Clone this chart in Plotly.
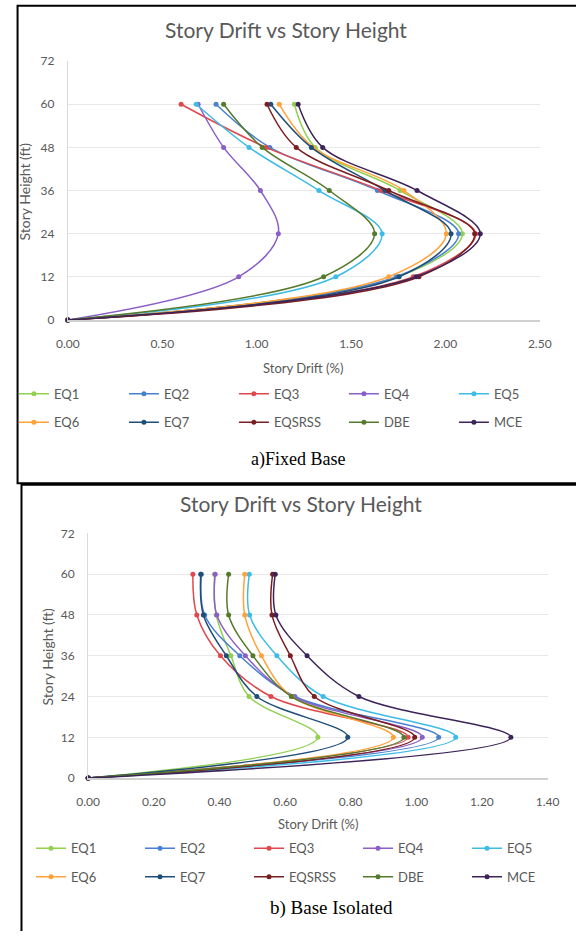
import plotly.graph_objects as go

heights = [0, 12, 24, 36, 48, 60]
series_names = ["EQ1", "EQ2", "EQ3", "EQ4", "EQ5", "EQ6", "EQ7", "EQSRSS", "DBE", "MCE"]
colors = ["#92D050", "#4A80D0", "#E0474C", "#8B5FC7", "#3CBCE6",
          "#FFA23A", "#1F4E79", "#7B1E22", "#557A2C", "#3D2458"]

# a) Fixed Base - story drift (%)
fixed_eq1 = [0, 1.75, 2.09, 1.76, 1.31, 1.20]
fixed_eq2 = [0, 1.74, 2.07, 1.64, 1.07, 0.785]
fixed_eq3 = [0, 1.83, 2.16, 1.66, 1.05, 0.60]
fixed_eq4 = [0, 0.905, 1.115, 1.02, 0.825, 0.69]
fixed_eq5 = [0, 1.42, 1.665, 1.33, 0.96, 0.68]
fixed_eq6 = [0, 1.70, 2.005, 1.78, 1.30, 1.12]
fixed_eq7 = [0, 1.755, 2.03, 1.68, 1.29, 1.075]
fixed_eqsrss = [0, 1.86, 2.155, 1.70, 1.21, 1.055]
fixed_dbe = [0, 1.355, 1.625, 1.385, 1.03, 0.825]
fixed_mce = [0, 1.845, 2.185, 1.85, 1.35, 1.22]

# b) Base Isolated - story drift (%)
iso_eq1 = [0, 0.70, 0.49, 0.435, 0.39, 0.385]
iso_eq2 = [0, 1.068, 0.63, 0.462, 0.355, 0.345]
iso_eq3 = [0, 0.975, 0.557, 0.403, 0.331, 0.319]
iso_eq4 = [0, 1.018, 0.625, 0.479, 0.392, 0.387]
iso_eq5 = [0, 1.12, 0.716, 0.575, 0.492, 0.491]
iso_eq6 = [0, 0.93, 0.62, 0.528, 0.477, 0.477]
iso_eq7 = [0, 0.791, 0.514, 0.421, 0.351, 0.343]
iso_eqsrss = [0, 0.995, 0.689, 0.616, 0.560, 0.562]
iso_dbe = [0, 0.962, 0.619, 0.502, 0.428, 0.428]
iso_mce = [0, 1.288, 0.825, 0.667, 0.572, 0.570]

fixed_data = [fixed_eq1, fixed_eq2, fixed_eq3, fixed_eq4, fixed_eq5,
              fixed_eq6, fixed_eq7, fixed_eqsrss, fixed_dbe, fixed_mce]
iso_data = [iso_eq1, iso_eq2, iso_eq3, iso_eq4, iso_eq5,
            iso_eq6, iso_eq7, iso_eqsrss, iso_dbe, iso_mce]

# page body has an 8px default margin: lay out in page pixels, shifted by OFF
OFF = 8
W, H = 584 - OFF, 939 - OFF
FONT = "Lato"
GREY = "#595959"

def px(x):
    return (x - OFF) / W

def py(y):
    return 1 - (y - OFF) / H

fig = go.Figure()

for i, (name, col) in enumerate(zip(series_names, colors)):
    lg = "legend" if i < 5 else "legend2"
    fig.add_trace(go.Scatter(
        x=fixed_data[i], y=heights, name=name, mode="lines+markers",
        line=dict(color=col, width=1.5, shape="spline", smoothing=1),
        marker=dict(color=col, size=5), xaxis="x", yaxis="y",
        legend=lg, cliponaxis=False))
for i, (name, col) in enumerate(zip(series_names, colors)):
    lg = "legend3" if i < 5 else "legend4"
    fig.add_trace(go.Scatter(
        x=iso_data[i], y=heights, name=name, mode="lines+markers",
        line=dict(color=col, width=1.5, shape="spline", smoothing=1),
        marker=dict(color=col, size=5), xaxis="x2", yaxis="y2",
        legend=lg, cliponaxis=False))

axis_common = dict(tickfont=dict(family=FONT, size=12, color=GREY),
                   zeroline=False, fixedrange=True)

def legend_cfg(xpx, ypx, ew):
    return dict(orientation="h", x=px(xpx), y=py(ypx), xanchor="left", yanchor="middle",
                entrywidth=ew, entrywidthmode="pixels", itemwidth=30,
                font=dict(family=FONT, size=13, color=GREY),
                bgcolor="rgba(0,0,0,0)", borderwidth=0, traceorder="normal")

fig.update_layout(
    width=W, height=H, margin=dict(l=0, r=0, t=0, b=0),
    paper_bgcolor="white", plot_bgcolor="white", showlegend=True,
    xaxis=dict(domain=[px(66.3), px(558.7)], anchor="y", range=[0, 2.5], dtick=0.5,
               tickformat=".2f", showgrid=False, showline=True, linecolor="#D0D0D0",
               linewidth=1.5, ticks="", ticklabelstandoff=12, **axis_common),
    yaxis=dict(domain=[py(325), py(62)], anchor="x", range=[0, 72], dtick=12,
               showgrid=True, gridcolor="#E8E8E8", gridwidth=1, showline=True,
               linecolor="#D9D9D9", linewidth=1, ticks="", ticklabelstandoff=10, **axis_common),
    xaxis2=dict(domain=[px(87.5), px(566.9)], anchor="y2", range=[0, 1.4], dtick=0.2,
                tickformat=".2f", showgrid=False, showline=True, linecolor="#D0D0D0",
                linewidth=1.5, ticks="", ticklabelstandoff=12, **axis_common),
    yaxis2=dict(domain=[py(790.7), py(542)], anchor="x2", range=[0, 72], dtick=12,
                showgrid=True, gridcolor="#E8E8E8", gridwidth=1, showline=True,
                linecolor="#D9D9D9", linewidth=1, ticks="", ticklabelstandoff=10, **axis_common),
    legend=legend_cfg(10, 400, 65),
    legend2=legend_cfg(10, 429, 65),
    legend3=legend_cfg(29, 862, 64),
    legend4=legend_cfg(29, 891, 64),
)

def ann(text, xpx, ypx, size, family=FONT, color=GREY, angle=0):
    fig.add_annotation(text=text, x=px(xpx), y=py(ypx), xref="paper", yref="paper",
                       xanchor="center", yanchor="middle", showarrow=False,
                       textangle=angle, font=dict(family=family, size=size, color=color))

ann("Story Drift vs Story Height", 294, 30, 21)
ann("Story Drift (%)", 312, 374, 13)
ann("Story Height (ft)", 21, 194, 14, angle=-90)
ann("a)Fixed Base", 306, 467, 18, family="Liberation Serif", color="black")

ann("Story Drift vs Story Height", 310, 512, 21)
ann("Story Drift (%)", 327, 837, 13)
ann("Story Height (ft)", 44.7, 667, 14, angle=-90)
ann("b) Base Isolated", 341, 923, 19, family="Liberation Serif", color="black")

fig.add_shape(type="rect", xref="paper", yref="paper",
              x0=px(13.8), x1=1.05, y0=py(491), y1=py(5.7),
              line=dict(color="black", width=2), fillcolor="rgba(0,0,0,0)", layer="above")
fig.add_shape(type="rect", xref="paper", yref="paper",
              x0=px(17.9), x1=1.05, y0=-0.05, y1=py(492.5),
              line=dict(color="black", width=2), fillcolor="rgba(0,0,0,0)", layer="above")

fig.write_html("out.html")
